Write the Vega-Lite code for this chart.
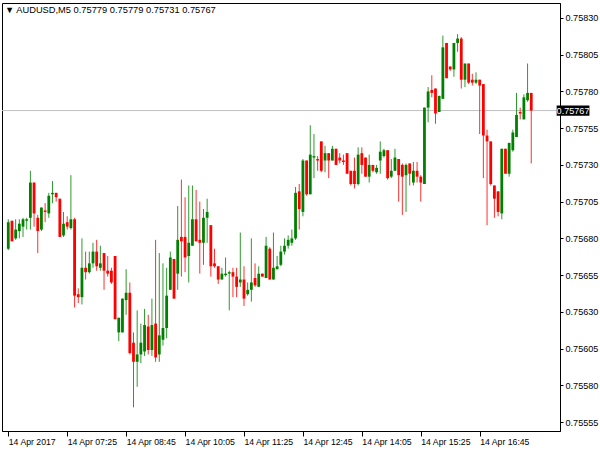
{
  "$schema": "https://vega.github.io/schema/vega-lite/v6.json",
  "width": 558,
  "height": 428,
  "autosize": {"type": "none"},
  "padding": {"left": 2, "top": 3, "right": 40, "bottom": 19},
  "background": "white",
  "title": {"text": "▼  AUDUSD,M5  0.75779 0.75779 0.75731 0.75767", "anchor": "start", "frame": "group", "offset": -10, "dy": 9, "baseline": "alphabetic", "fontSize": 9.3, "fontWeight": "normal", "font": "Liberation Sans", "color": "black", "dx": 3},
  "data": {"values": [
    {"i":0,"o":0.75673,"h":0.75693,"l":0.75672,"c":0.75691},
    {"i":1,"o":0.75692,"h":0.75692,"l":0.75678,"c":0.75678},
    {"i":2,"o":0.75680,"h":0.75693,"l":0.75679,"c":0.75686},
    {"i":3,"o":0.75685,"h":0.75693,"l":0.75680,"c":0.75690},
    {"i":4,"o":0.75688,"h":0.75694,"l":0.75681,"c":0.75693},
    {"i":5,"o":0.75692,"h":0.75694,"l":0.75686,"c":0.75693},
    {"i":6,"o":0.75694,"h":0.75726,"l":0.75686,"c":0.75718},
    {"i":7,"o":0.75718,"h":0.75718,"l":0.75688,"c":0.75697},
    {"i":8,"o":0.75694,"h":0.75696,"l":0.75670,"c":0.75685},
    {"i":9,"o":0.75686,"h":0.75701,"l":0.75685,"c":0.75701},
    {"i":10,"o":0.75699,"h":0.75704,"l":0.75691,"c":0.75698},
    {"i":11,"o":0.75697,"h":0.75711,"l":0.75694,"c":0.75709},
    {"i":12,"o":0.75710,"h":0.75719,"l":0.75704,"c":0.75711},
    {"i":13,"o":0.75711,"h":0.75711,"l":0.75705,"c":0.75708},
    {"i":14,"o":0.75707,"h":0.75707,"l":0.75681,"c":0.75681},
    {"i":15,"o":0.75682,"h":0.75698,"l":0.75681,"c":0.75690},
    {"i":16,"o":0.75691,"h":0.75695,"l":0.75686,"c":0.75688},
    {"i":17,"o":0.75687,"h":0.75723,"l":0.75686,"c":0.75693},
    {"i":18,"o":0.75693,"h":0.75694,"l":0.75633,"c":0.75641},
    {"i":19,"o":0.75642,"h":0.75646,"l":0.75636,"c":0.75640},
    {"i":20,"o":0.75640,"h":0.75680,"l":0.75635,"c":0.75660},
    {"i":21,"o":0.75660,"h":0.75671,"l":0.75652,"c":0.75657},
    {"i":22,"o":0.75657,"h":0.75671,"l":0.75656,"c":0.75663},
    {"i":23,"o":0.75663,"h":0.75677,"l":0.75660,"c":0.75671},
    {"i":24,"o":0.75671,"h":0.75679,"l":0.75658,"c":0.75661},
    {"i":25,"o":0.75660,"h":0.75675,"l":0.75658,"c":0.75663},
    {"i":26,"o":0.75670,"h":0.75670,"l":0.75645,"c":0.75658},
    {"i":27,"o":0.75658,"h":0.75668,"l":0.75654,"c":0.75656},
    {"i":28,"o":0.75658,"h":0.75660,"l":0.75649,"c":0.75650},
    {"i":29,"o":0.75668,"h":0.75668,"l":0.75625,"c":0.75625},
    {"i":30,"o":0.75616,"h":0.75626,"l":0.75610,"c":0.75626},
    {"i":31,"o":0.75616,"h":0.75639,"l":0.75616,"c":0.75639},
    {"i":32,"o":0.75638,"h":0.75659,"l":0.75628,"c":0.75643},
    {"i":33,"o":0.75643,"h":0.75650,"l":0.75601,"c":0.75602},
    {"i":34,"o":0.75609,"h":0.75616,"l":0.75565,"c":0.75596},
    {"i":35,"o":0.75596,"h":0.75631,"l":0.75579,"c":0.75601},
    {"i":36,"o":0.75601,"h":0.75622,"l":0.75595,"c":0.75609},
    {"i":37,"o":0.75603,"h":0.75632,"l":0.75600,"c":0.75621},
    {"i":38,"o":0.75620,"h":0.75628,"l":0.75601,"c":0.75604},
    {"i":39,"o":0.75604,"h":0.75639,"l":0.75600,"c":0.75621},
    {"i":40,"o":0.75622,"h":0.75679,"l":0.75596,"c":0.75599},
    {"i":41,"o":0.75601,"h":0.75670,"l":0.75596,"c":0.75614},
    {"i":42,"o":0.75611,"h":0.75663,"l":0.75607,"c":0.75619},
    {"i":43,"o":0.75619,"h":0.75660,"l":0.75612,"c":0.75641},
    {"i":44,"o":0.75645,"h":0.75671,"l":0.75645,"c":0.75667},
    {"i":45,"o":0.75666,"h":0.75666,"l":0.75639,"c":0.75639},
    {"i":46,"o":0.75656,"h":0.75702,"l":0.75645,"c":0.75679},
    {"i":47,"o":0.75681,"h":0.75720,"l":0.75654,"c":0.75678},
    {"i":48,"o":0.75681,"h":0.75708,"l":0.75657,"c":0.75667},
    {"i":49,"o":0.75668,"h":0.75716,"l":0.75650,"c":0.75677},
    {"i":50,"o":0.75675,"h":0.75716,"l":0.75675,"c":0.75693},
    {"i":51,"o":0.75693,"h":0.75713,"l":0.75678,"c":0.75678},
    {"i":52,"o":0.75679,"h":0.75705,"l":0.75656,"c":0.75677},
    {"i":53,"o":0.75677,"h":0.75700,"l":0.75662,"c":0.75694},
    {"i":54,"o":0.75694,"h":0.75707,"l":0.75677,"c":0.75698},
    {"i":55,"o":0.75689,"h":0.75689,"l":0.75654,"c":0.75661},
    {"i":56,"o":0.75663,"h":0.75673,"l":0.75660,"c":0.75661},
    {"i":57,"o":0.75661,"h":0.75661,"l":0.75649,"c":0.75652},
    {"i":58,"o":0.75652,"h":0.75660,"l":0.75652,"c":0.75656},
    {"i":59,"o":0.75655,"h":0.75667,"l":0.75654,"c":0.75656},
    {"i":60,"o":0.75656,"h":0.75658,"l":0.75631,"c":0.75657},
    {"i":61,"o":0.75657,"h":0.75660,"l":0.75640,"c":0.75654},
    {"i":62,"o":0.75654,"h":0.75660,"l":0.75640,"c":0.75647},
    {"i":63,"o":0.75650,"h":0.75684,"l":0.75647,"c":0.75652},
    {"i":64,"o":0.75652,"h":0.75661,"l":0.75634,"c":0.75639},
    {"i":65,"o":0.75642,"h":0.75650,"l":0.75641,"c":0.75645},
    {"i":66,"o":0.75645,"h":0.75680,"l":0.75637,"c":0.75650},
    {"i":67,"o":0.75653,"h":0.75663,"l":0.75647,"c":0.75648},
    {"i":68,"o":0.75647,"h":0.75661,"l":0.75647,"c":0.75656},
    {"i":69,"o":0.75656,"h":0.75656,"l":0.75654,"c":0.75654},
    {"i":70,"o":0.75653,"h":0.75681,"l":0.75653,"c":0.75675},
    {"i":71,"o":0.75673,"h":0.75674,"l":0.75652,"c":0.75652},
    {"i":72,"o":0.75652,"h":0.75684,"l":0.75652,"c":0.75660},
    {"i":73,"o":0.75659,"h":0.75668,"l":0.75659,"c":0.75661},
    {"i":74,"o":0.75662,"h":0.75675,"l":0.75661,"c":0.75671},
    {"i":75,"o":0.75671,"h":0.75680,"l":0.75669,"c":0.75675},
    {"i":76,"o":0.75675,"h":0.75682,"l":0.75673,"c":0.75679},
    {"i":77,"o":0.75677,"h":0.75686,"l":0.75675,"c":0.75680},
    {"i":78,"o":0.75680,"h":0.75715,"l":0.75679,"c":0.75711},
    {"i":79,"o":0.75712,"h":0.75717,"l":0.75686,"c":0.75700},
    {"i":80,"o":0.75698,"h":0.75734,"l":0.75695,"c":0.75733},
    {"i":81,"o":0.75733,"h":0.75733,"l":0.75709,"c":0.75710},
    {"i":82,"o":0.75710,"h":0.75757,"l":0.75710,"c":0.75737},
    {"i":83,"o":0.75735,"h":0.75751,"l":0.75721,"c":0.75736},
    {"i":84,"o":0.75734,"h":0.75736,"l":0.75726,"c":0.75733},
    {"i":85,"o":0.75746,"h":0.75746,"l":0.75725,"c":0.75726},
    {"i":86,"o":0.75733,"h":0.75743,"l":0.75725,"c":0.75738},
    {"i":87,"o":0.75738,"h":0.75738,"l":0.75721,"c":0.75733},
    {"i":88,"o":0.75733,"h":0.75743,"l":0.75733,"c":0.75741},
    {"i":89,"o":0.75741,"h":0.75741,"l":0.75730,"c":0.75730},
    {"i":90,"o":0.75735,"h":0.75738,"l":0.75731,"c":0.75733},
    {"i":91,"o":0.75733,"h":0.75737,"l":0.75730,"c":0.75732},
    {"i":92,"o":0.75738,"h":0.75738,"l":0.75724,"c":0.75724},
    {"i":93,"o":0.75726,"h":0.75726,"l":0.75716,"c":0.75717},
    {"i":94,"o":0.75726,"h":0.75735,"l":0.75714,"c":0.75717},
    {"i":95,"o":0.75717,"h":0.75742,"l":0.75716,"c":0.75737},
    {"i":96,"o":0.75738,"h":0.75742,"l":0.75724,"c":0.75730},
    {"i":97,"o":0.75735,"h":0.75735,"l":0.75722,"c":0.75722},
    {"i":98,"o":0.75722,"h":0.75737,"l":0.75718,"c":0.75730},
    {"i":99,"o":0.75730,"h":0.75730,"l":0.75725,"c":0.75726},
    {"i":100,"o":0.75725,"h":0.75730,"l":0.75724,"c":0.75728},
    {"i":101,"o":0.75733,"h":0.75746,"l":0.75724,"c":0.75739},
    {"i":102,"o":0.75736,"h":0.75741,"l":0.75735,"c":0.75740},
    {"i":103,"o":0.75740,"h":0.75740,"l":0.75720,"c":0.75721},
    {"i":104,"o":0.75722,"h":0.75734,"l":0.75721,"c":0.75726},
    {"i":105,"o":0.75726,"h":0.75741,"l":0.75726,"c":0.75735},
    {"i":106,"o":0.75734,"h":0.75734,"l":0.75705,"c":0.75723},
    {"i":107,"o":0.75730,"h":0.75731,"l":0.75696,"c":0.75722},
    {"i":108,"o":0.75723,"h":0.75731,"l":0.75698,"c":0.75730},
    {"i":109,"o":0.75731,"h":0.75731,"l":0.75716,"c":0.75724},
    {"i":110,"o":0.75718,"h":0.75732,"l":0.75716,"c":0.75726},
    {"i":111,"o":0.75726,"h":0.75732,"l":0.75718,"c":0.75722},
    {"i":112,"o":0.75722,"h":0.75723,"l":0.75705,"c":0.75718},
    {"i":113,"o":0.75717,"h":0.75769,"l":0.75717,"c":0.75769},
    {"i":114,"o":0.75769,"h":0.75783,"l":0.75759,"c":0.75780},
    {"i":115,"o":0.75781,"h":0.75791,"l":0.75776,"c":0.75779},
    {"i":116,"o":0.75782,"h":0.75782,"l":0.75758,"c":0.75765},
    {"i":117,"o":0.75766,"h":0.75777,"l":0.75766,"c":0.75777},
    {"i":118,"o":0.75775,"h":0.75818,"l":0.75775,"c":0.75810},
    {"i":119,"o":0.75813,"h":0.75813,"l":0.75789,"c":0.75789},
    {"i":120,"o":0.75797,"h":0.75797,"l":0.75794,"c":0.75795},
    {"i":121,"o":0.75795,"h":0.75813,"l":0.75790,"c":0.75813},
    {"i":122,"o":0.75813,"h":0.75819,"l":0.75807,"c":0.75816},
    {"i":123,"o":0.75816,"h":0.75817,"l":0.75782,"c":0.75788},
    {"i":124,"o":0.75788,"h":0.75799,"l":0.75783,"c":0.75799},
    {"i":125,"o":0.75799,"h":0.75799,"l":0.75785,"c":0.75786},
    {"i":126,"o":0.75788,"h":0.75792,"l":0.75784,"c":0.75786},
    {"i":127,"o":0.75786,"h":0.75793,"l":0.75785,"c":0.75788},
    {"i":128,"o":0.75788,"h":0.75788,"l":0.75751,"c":0.75784},
    {"i":129,"o":0.75785,"h":0.75785,"l":0.75721,"c":0.75750},
    {"i":130,"o":0.75750,"h":0.75754,"l":0.75689,"c":0.75746},
    {"i":131,"o":0.75746,"h":0.75746,"l":0.75716,"c":0.75717},
    {"i":132,"o":0.75716,"h":0.75716,"l":0.75694,"c":0.75707},
    {"i":133,"o":0.75712,"h":0.75712,"l":0.75695,"c":0.75698},
    {"i":134,"o":0.75697,"h":0.75741,"l":0.75693,"c":0.75741},
    {"i":135,"o":0.75741,"h":0.75741,"l":0.75724,"c":0.75724},
    {"i":136,"o":0.75724,"h":0.75745,"l":0.75722,"c":0.75745},
    {"i":137,"o":0.75740,"h":0.75754,"l":0.75739,"c":0.75752},
    {"i":138,"o":0.75749,"h":0.75779,"l":0.75749,"c":0.75764},
    {"i":139,"o":0.75766,"h":0.75769,"l":0.75761,"c":0.75765},
    {"i":140,"o":0.75761,"h":0.75778,"l":0.75761,"c":0.75776},
    {"i":141,"o":0.75774,"h":0.75799,"l":0.75773,"c":0.75779},
    {"i":142,"o":0.75779,"h":0.75779,"l":0.75731,"c":0.75767}
  ]},
  "layer": [
    {
      "data": {"values": [{}]},
      "mark": {"type": "rule", "color": "#c0c0c0", "strokeWidth": 1},
      "encoding": {
        "y": {"datum": 0.75767, "type": "quantitative", "scale": {"domain": [0.755489, 0.758402], "nice": false, "zero": false},
          "axis": {"orient": "right", "values": [0.75555,0.7558,0.75605,0.7563,0.75655,0.7568,0.75705,0.7573,0.75755,0.7578,0.75805,0.7583],
            "tickCount": 30,
            "format": ".5f", "grid": false, "title": null, "tickSize": 3, "tickColor": "black", "domainColor": "black",
            "labelPadding": 2, "labelFont": "Liberation Sans", "labelFontSize": 9.1, "labelColor": "black", "labelBaseline": "middle", "labelOverlap": false, "labelFlush": false}}
      }
    },
    {
      "mark": {"type": "rule", "strokeWidth": 1},
      "encoding": {
        "x": {"field": "i", "type": "quantitative", "scale": {"domain": [-0.35, 148.45], "nice": false, "zero": false},
          "axis": {"orient": "bottom", "values": [0,16,32,48,64,80,96,112,128], "tickCount": 30, "grid": false, "title": null,
            "labelExpr": "datum.value == 0 ? '14 Apr 2017' : '14 Apr ' + ['','07:25','08:45','10:05','11:25','12:45','14:05','15:25','16:45'][datum.value/16]",
            "labelAlign": "left", "labelBaseline": "top", "labelPadding": 1, "tickSize": 5, "tickColor": "black", "domainColor": "black",
            "labelFont": "Liberation Sans", "labelFontSize": 8.7, "labelColor": "black", "labelOverlap": false, "labelFlush": false}},
        "y": {"field": "l", "type": "quantitative"},
        "y2": {"field": "h"},
        "color": {"condition": {"test": "datum.c >= datum.o", "value": "#2e9a2e"}, "value": "#ff3030"}
      }
    },
    {
      "mark": {"type": "bar", "size": 2.8},
      "encoding": {
        "x": {"field": "i", "type": "quantitative"},
        "y": {"field": "o", "type": "quantitative"},
        "y2": {"field": "c"},
        "color": {"condition": {"test": "datum.c >= datum.o", "value": "#008000"}, "value": "#ff0000"}
      }
    },
    {
      "data": {"values": [{}]},
      "mark": {"type": "rect", "color": "black"},
      "encoding": {
        "x": {"datum": 148.9, "type": "quantitative"},
        "x2": {"datum": 157.8},
        "y": {"datum": 0.757705, "type": "quantitative"},
        "y2": {"datum": 0.757635}
      }
    },
    {
      "data": {"values": [{}]},
      "mark": {"type": "text", "color": "white", "font": "Liberation Sans", "fontSize": 9.1, "align": "center", "baseline": "middle"},
      "encoding": {
        "x": {"datum": 153.35, "type": "quantitative"},
        "y": {"datum": 0.75767, "type": "quantitative"},
        "text": {"value": "0.75767"}
      }
    }
  ],
  "config": {
    "view": {"stroke": "black", "strokeWidth": 1},
    "axis": {"labelOverlap": false},
    "legend": {"disable": true}
  }
}
